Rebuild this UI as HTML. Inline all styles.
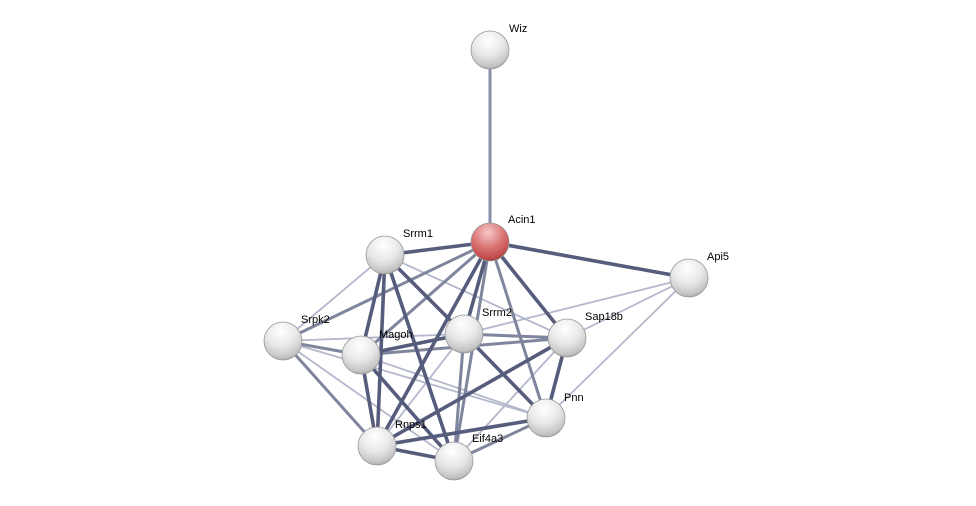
<!DOCTYPE html>
<html><head><style>body{margin:0;background:#fff}svg{display:block}text{font-family:"Liberation Sans",sans-serif;font-size:11px;fill:#000}</style></head><body>
<svg width="976" height="506" viewBox="0 0 976 506">
<defs>
<radialGradient id="g" cx="0.45" cy="0.25" r="0.8"><stop offset="0" stop-color="#ffffff"/><stop offset="0.5" stop-color="#e8e8e8"/><stop offset="0.85" stop-color="#c4c4c4"/><stop offset="1" stop-color="#9a9a9a"/></radialGradient>
<radialGradient id="r" cx="0.45" cy="0.25" r="0.8"><stop offset="0" stop-color="#f6c8c8"/><stop offset="0.5" stop-color="#dc7676"/><stop offset="0.85" stop-color="#c04a4a"/><stop offset="1" stop-color="#8a2828"/></radialGradient>
</defs>
<g stroke-linecap="round">
<g stroke="#8a90a8" stroke-width="3">
<line x1="490" y1="50" x2="490" y2="242"/>
</g>
<g stroke="#b4b8cc" stroke-width="1.8">
<line x1="689" y1="278" x2="567" y2="338"/>
<line x1="689" y1="278" x2="464" y2="334"/>
<line x1="689" y1="278" x2="546" y2="418"/>
<line x1="385" y1="255" x2="283" y2="341"/>
<line x1="385" y1="255" x2="567" y2="338"/>
<line x1="283" y1="341" x2="454" y2="461"/>
<line x1="283" y1="341" x2="464" y2="334"/>
<line x1="283" y1="341" x2="546" y2="418"/>
<line x1="361" y1="355" x2="546" y2="418"/>
<line x1="464" y1="334" x2="377" y2="446"/>
<line x1="567" y1="338" x2="454" y2="461"/>
</g>
<g stroke="#7f859d" stroke-width="3">
<line x1="490" y1="242" x2="283" y2="341"/>
<line x1="490" y1="242" x2="361" y2="355"/>
<line x1="490" y1="242" x2="546" y2="418"/>
<line x1="283" y1="341" x2="361" y2="355"/>
<line x1="283" y1="341" x2="377" y2="446"/>
<line x1="464" y1="334" x2="454" y2="461"/>
<line x1="361" y1="355" x2="567" y2="338"/>
<line x1="546" y1="418" x2="454" y2="461"/>
<line x1="464" y1="334" x2="567" y2="338"/>
<line x1="490" y1="242" x2="454" y2="461"/>
</g>
<g stroke="#565c7c" stroke-width="3.6">
<line x1="490" y1="242" x2="689" y2="278"/>
<line x1="490" y1="242" x2="385" y2="255"/>
<line x1="490" y1="242" x2="464" y2="334"/>
<line x1="490" y1="242" x2="567" y2="338"/>
<line x1="490" y1="242" x2="377" y2="446"/>
<line x1="385" y1="255" x2="361" y2="355"/>
<line x1="385" y1="255" x2="377" y2="446"/>
<line x1="385" y1="255" x2="454" y2="461"/>
<line x1="385" y1="255" x2="464" y2="334"/>
<line x1="361" y1="355" x2="464" y2="334"/>
<line x1="361" y1="355" x2="377" y2="446"/>
<line x1="361" y1="355" x2="454" y2="461"/>
<line x1="464" y1="334" x2="546" y2="418"/>
<line x1="567" y1="338" x2="546" y2="418"/>
<line x1="567" y1="338" x2="377" y2="446"/>
<line x1="546" y1="418" x2="377" y2="446"/>
<line x1="377" y1="446" x2="454" y2="461"/>
</g>
</g>
<g stroke="#999" stroke-width="0.8">
<circle cx="490" cy="50" r="19" fill="url(#g)"/>
<circle cx="490" cy="242" r="19" fill="url(#r)"/>
<circle cx="385" cy="255" r="19" fill="url(#g)"/>
<circle cx="689" cy="278" r="19" fill="url(#g)"/>
<circle cx="283" cy="341" r="19" fill="url(#g)"/>
<circle cx="361" cy="355" r="19" fill="url(#g)"/>
<circle cx="464" cy="334" r="19" fill="url(#g)"/>
<circle cx="567" cy="338" r="19" fill="url(#g)"/>
<circle cx="546" cy="418" r="19" fill="url(#g)"/>
<circle cx="377" cy="446" r="19" fill="url(#g)"/>
<circle cx="454" cy="461" r="19" fill="url(#g)"/>
</g>
<text x="509" y="32">Wiz</text>
<text x="508" y="223">Acin1</text>
<text x="403" y="237">Srrm1</text>
<text x="707" y="260">Api5</text>
<text x="301" y="323">Srpk2</text>
<text x="379" y="338">Magoh</text>
<text x="482" y="316">Srrm2</text>
<text x="585" y="320">Sap18b</text>
<text x="564" y="401">Pnn</text>
<text x="395" y="428">Rnps1</text>
<text x="472" y="442">Eif4a3</text>
</svg>
</body></html>
